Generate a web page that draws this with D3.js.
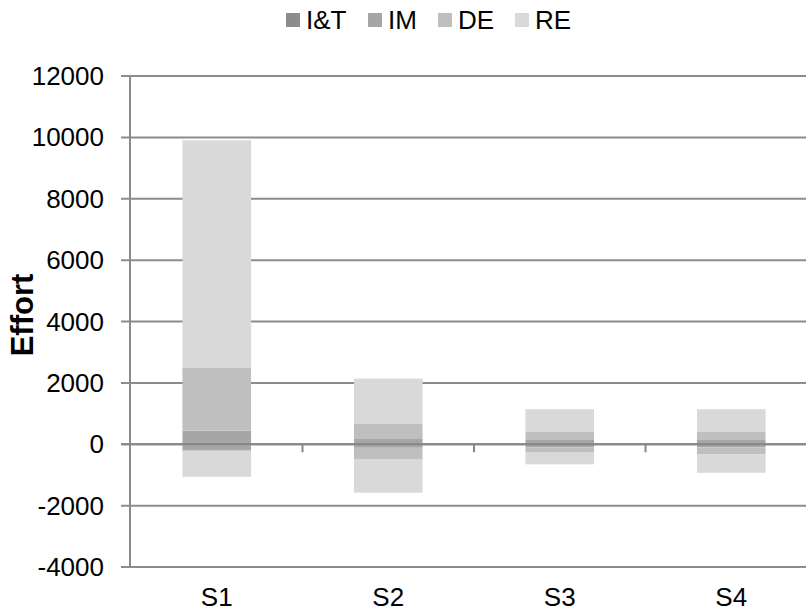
<!DOCTYPE html>
<html>
  <head>
    <meta charset="utf-8">
    <title>Effort</title>
    <script src="https://d3js.org/d3.v7.min.js"></script>
    <style>
      body { margin: 0; background: #fff; }
      svg { display: block; font-family: "Liberation Sans", Arial, sans-serif; }
    </style>
  </head>
  <body>
    <svg id="chart" width="806" height="613"></svg>
    <script>
      // chart data
      var categories = ["S1", "S2", "S3", "S4"];
      var seriesNames = ["I&T", "IM", "DE", "RE"];
      var seriesColors = ["#8c8c8c", "#a6a6a6", "#bfbfbf", "#d9d9d9"];
      // upward part of each segment
      var itHigh = [40, 30, 30, 30];
      var imHigh = [400, 140, 110, 110];
      var deHigh = [2065, 490, 260, 260];
      var reHigh = [7400, 1480, 740, 740];
      // downward part of each segment
      var itLow = [-20, -20, -20, -20];
      var imLow = [-190, -95, -80, -80];
      var deLow = [0, -365, -175, -220];
      var reLow = [-850, -1100, -380, -610];
      var yTicks = [-4000, -2000, 0, 2000, 4000, 6000, 8000, 10000, 12000];

      var highs = [itHigh, imHigh, deHigh, reHigh];
      var lows = [itLow, imLow, deLow, reLow];

      // build rows for the stack
      var keys = [];
      seriesNames.forEach(function(s) { keys.push(s + "|hi", s + "|lo"); });
      var rows = categories.map(function(c, i) {
        var row = { cat: c };
        seriesNames.forEach(function(s, j) {
          row[s + "|hi"] = highs[j][i];
          row[s + "|lo"] = lows[j][i];
        });
        return row;
      });
      var stacked = d3.stack()
        .keys(keys)
        .offset(d3.stackOffsetDiverging)(rows);

      var svg = d3.select("#chart");
      var plotLeft = 131, plotRight = 817, plotTop = 76, plotBottom = 567;

      var x = d3.scaleBand()
        .domain(categories)
        .range([plotLeft, plotRight])
        .paddingInner(0.6)
        .paddingOuter(0.3);
      var band = d3.scaleBand().domain(categories).range([plotLeft, plotRight]);
      var y = d3.scaleLinear()
        .domain([-4000, 12000])
        .range([plotBottom, plotTop]);

      // gridlines behind the bars
      svg.append("g")
        .selectAll("line")
          .data(yTicks)
        .enter().append("line")
          .attr("x1", 121)
          .attr("x2", 806)
          .attr("y1", function(d) { return y(d); })
          .attr("y2", function(d) { return y(d); })
          .style("stroke", "#8c8c8c")
          .style("stroke-width", 2);

      // bars
      svg.append("g")
        .selectAll("g")
          .data(stacked)
        .enter().append("g")
          .style("fill", function(d) { return seriesColors[seriesNames.indexOf(d.key.split("|")[0])]; })
        .selectAll("rect")
          .data(function(d) { return d; })
        .enter().append("rect")
          .attr("x", function(d) { return x(d.data.cat); })
          .attr("width", x.bandwidth())
          .attr("y", function(d) { return y(Math.max(d[0], d[1])); })
          .attr("height", function(d) { return Math.abs(y(d[0]) - y(d[1])); });

      // y axis line and labels
      svg.append("line")
        .attr("x1", 130).attr("x2", 130)
        .attr("y1", y(12000)).attr("y2", y(-4000) + 1)
        .style("stroke", "#8c8c8c")
        .style("stroke-width", 2);
      svg.append("g")
        .selectAll("text")
          .data(yTicks)
        .enter().append("text")
          .attr("x", 104)
          .attr("y", function(d) { return y(d) + 9; })
          .attr("text-anchor", "end")
          .style("font-size", "26px")
          .text(function(d) { return d; });

      // zero axis on top with category ticks
      svg.append("line")
        .attr("x1", 121).attr("x2", 806)
        .attr("y1", y(0)).attr("y2", y(0))
        .style("stroke", "#868686")
        .style("stroke-width", 2);
      svg.append("g")
        .selectAll("line")
          .data(categories.slice(1))
        .enter().append("line")
          .attr("x1", function(d) { return band(d); })
          .attr("x2", function(d) { return band(d); })
          .attr("y1", y(0))
          .attr("y2", y(0) + 8)
          .style("stroke", "#868686")
          .style("stroke-width", 2);

      // category labels
      svg.append("g")
        .selectAll("text")
          .data(categories)
        .enter().append("text")
          .attr("x", function(d) { return x(d) + x.bandwidth() / 2; })
          .attr("y", 606)
          .attr("text-anchor", "middle")
          .style("font-size", "26px")
          .text(function(d) { return d; });

      // axis title
      svg.append("text")
        .attr("transform", "translate(33,315) rotate(-90)")
        .attr("text-anchor", "middle")
        .style("font-size", "31px")
        .style("font-weight", "bold")
        .text("Effort");

      // legend
      var legendX = [286, 368, 438, 515];
      var legend = svg.append("g")
        .selectAll("g")
          .data(seriesNames)
        .enter().append("g")
          .attr("transform", function(d, i) { return "translate(" + legendX[i] + ",0)"; });
      legend.append("rect")
        .attr("y", 13)
        .attr("width", 14)
        .attr("height", 14)
        .style("fill", function(d, i) { return seriesColors[i]; });
      legend.append("text")
        .attr("x", 20)
        .attr("y", 29)
        .style("font-size", "26px")
        .text(function(d) { return d; });
    </script>
  </body>
</html>
